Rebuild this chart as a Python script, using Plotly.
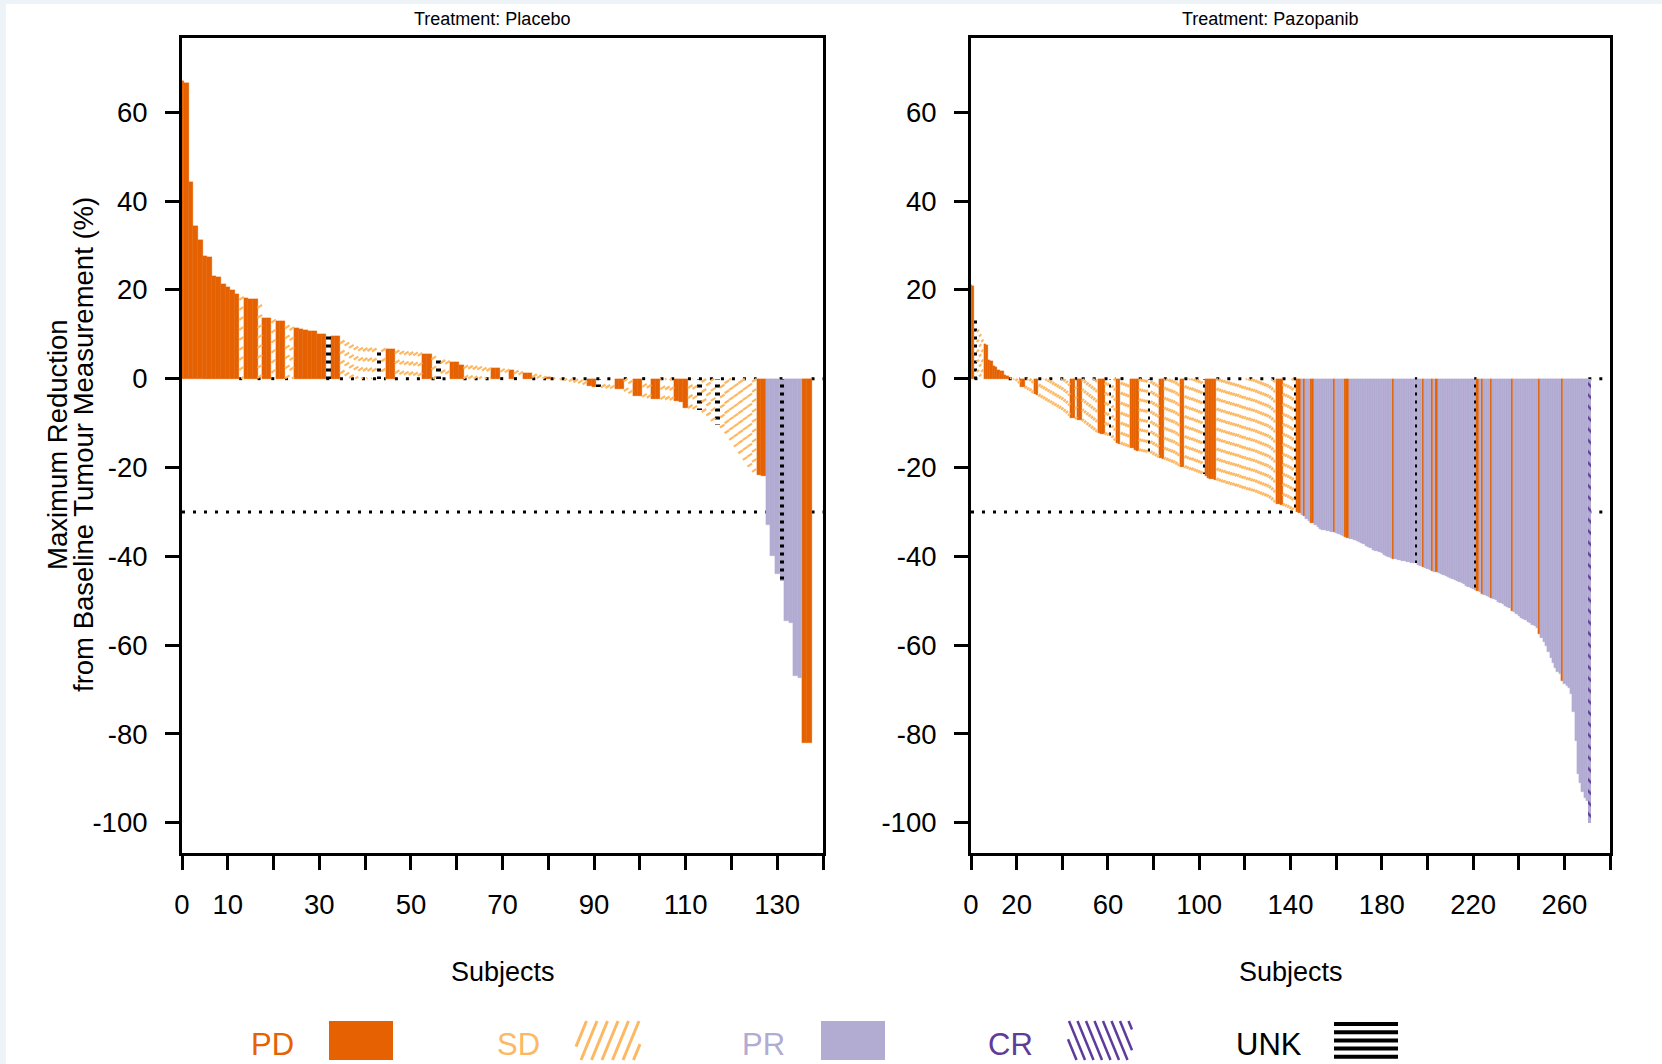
import plotly.graph_objects as go

W, H = 1662, 1064

# Maximum reduction from baseline tumour measurement (%), one value per subject,
# ordered from the largest increase to the largest reduction.
placebo_change = [
    67.0, 66.5, 44.3, 34.3, 31.2, 27.7, 27.5, 23.1, 22.9, 21.3,
    20.7, 19.9, 19.0, 18.4, 18.1, 18.0, 17.9, 16.6, 13.7, 13.6,
    13.3, 13.0, 12.9, 12.0, 11.6, 11.3, 11.2, 10.9, 10.8, 10.7,
    10.1, 10.0, 9.8, 9.6, 9.5, 8.6, 8.1, 7.6, 7.2, 7.0,
    6.9, 6.9, 6.8, 6.8, 6.8, 6.7, 6.7, 6.4, 6.2, 6.1,
    6.0, 5.9, 5.8, 5.6, 5.5, 5.0, 4.6, 4.2, 4.0, 3.8,
    3.8, 3.1, 3.0, 2.9, 2.8, 2.7, 2.5, 2.4, 2.3, 2.3,
    2.2, 2.1, 2.0, 1.8, 1.6, 1.3, 1.3, 1.0, 0.8, 0.5,
    0.4, 0.2, 0.0, -0.2, -0.4, -0.6, -0.8, -1.0, -1.3, -1.7,
    -1.8, -1.9, -2.0, -2.1, -2.2, -2.4, -2.4, -2.8, -3.3, -3.8,
    -3.9, -4.1, -4.3, -4.5, -4.5, -4.6, -4.7, -4.8, -5.0, -5.2,
    -6.5, -6.6, -6.8, -7.0, -7.5, -8.3, -9.5, -10.5, -11.0, -12.3,
    -13.8, -15.3, -16.8, -18.3, -19.8, -21.0, -21.8, -22.0, -33.0, -40.0,
    -44.0, -45.5, -54.5, -55.0, -67.0, -67.5, -82.0, -82.0,
]

# Best response per subject, stored as consecutive runs (response, number of subjects).
placebo_response_runs = [
    ("PD", 13), ("SD", 1), ("PD", 3), ("SD", 1), ("PD", 2), ("SD", 1), ("PD", 2),
    ("SD", 2), ("PD", 7), ("UNK", 1), ("PD", 2), ("SD", 8), ("UNK", 1), ("SD", 1),
    ("PD", 2), ("SD", 6), ("PD", 2), ("SD", 1), ("UNK", 1), ("SD", 2), ("PD", 3),
    ("SD", 6), ("PD", 2), ("SD", 2), ("PD", 1), ("SD", 2), ("PD", 2), ("SD", 3),
    ("PD", 1), ("SD", 8), ("PD", 2), ("UNK", 1), ("SD", 3), ("PD", 2), ("SD", 2),
    ("PD", 2), ("SD", 2), ("PD", 2), ("SD", 3), ("PD", 3), ("SD", 2), ("UNK", 1),
    ("SD", 3), ("UNK", 1), ("SD", 8), ("PD", 2), ("PR", 3), ("UNK", 1), ("PR", 4),
    ("PD", 2),
]

pazopanib_change = [
    21.0, 20.8, 13.5, 11.0, 10.0, 8.8, 7.7, 7.6, 4.1, 4.0,
    2.8, 2.7, 1.9, 1.8, 1.7, 0.8, 0.7, 0.2, 0.0, -0.2,
    -0.5, -1.0, -1.8, -1.9, -2.2, -2.5, -2.8, -3.2, -3.5, -3.6,
    -4.0, -4.3, -4.6, -4.9, -5.2, -5.5, -5.8, -6.1, -6.4, -6.7,
    -7.0, -7.4, -7.8, -8.3, -8.8, -8.9, -9.1, -9.3, -9.4, -9.6,
    -10.0, -10.4, -10.8, -11.2, -11.6, -12.0, -12.3, -12.4, -12.5, -12.6,
    -12.8, -12.9, -13.3, -13.9, -14.5, -14.6, -14.8, -15.0, -15.2, -15.4,
    -15.5, -15.6, -16.1, -16.2, -16.3, -16.4, -16.5, -16.6, -16.6, -16.8,
    -17.1, -17.4, -17.7, -17.9, -18.0, -18.2, -18.4, -18.6, -18.8, -19.0,
    -19.3, -19.6, -19.8, -19.9, -20.1, -20.3, -20.5, -20.6, -20.8, -21.0,
    -21.2, -21.4, -21.5, -22.0, -22.4, -22.6, -22.7, -22.8, -22.9, -23.1,
    -23.3, -23.4, -23.6, -23.7, -23.9, -24.0, -24.2, -24.3, -24.5, -24.7,
    -24.8, -25.0, -25.1, -25.3, -25.4, -25.6, -25.8, -26.0, -26.2, -26.4,
    -26.6, -26.9, -27.3, -27.8, -28.2, -28.3, -28.4, -28.6, -28.8, -29.0,
    -29.3, -29.6, -30.1, -30.1, -30.2, -30.6, -31.0, -31.5, -32.0, -32.4,
    -32.5, -33.0, -33.5, -33.8, -34.0, -34.1, -34.2, -34.3, -34.5, -34.6,
    -34.8, -35.0, -35.3, -35.5, -35.7, -35.8, -36.0, -36.2, -36.3, -36.5,
    -36.7, -37.0, -37.3, -37.6, -37.9, -38.2, -38.5, -38.7, -38.9, -39.1,
    -39.3, -39.6, -39.9, -40.2, -40.4, -40.6, -40.7, -40.8, -40.9, -41.0,
    -41.1, -41.2, -41.3, -41.4, -41.5, -41.6, -41.9, -42.2, -42.5, -42.7,
    -42.9, -43.1, -43.3, -43.5, -43.6, -43.8, -44.0, -44.2, -44.4, -44.6,
    -44.8, -45.0, -45.3, -45.5, -45.8, -46.0, -46.3, -46.6, -46.9, -47.1,
    -47.3, -47.5, -47.7, -48.1, -48.5, -48.7, -48.9, -49.1, -49.3, -49.6,
    -49.9, -50.2, -50.5, -50.8, -51.1, -51.4, -51.7, -52.3, -52.6, -53.0,
    -53.4, -53.8, -54.1, -54.4, -54.7, -55.0, -55.4, -55.8, -56.2, -57.5,
    -58.3, -59.2, -60.3, -61.5, -62.8, -64.0, -65.2, -66.0, -66.5, -68.0,
    -68.7, -69.2, -69.6, -71.0, -75.0, -81.5, -89.0, -91.0, -93.0, -94.4,
    -95.0, -100.0,
]

pazopanib_response_runs = [
    ("PD", 2), ("UNK", 1), ("SD", 3), ("PD", 11), ("SD", 5), ("PD", 2), ("SD", 4),
    ("PD", 2), ("SD", 14), ("PD", 2), ("SD", 1), ("PD", 2), ("SD", 7), ("PD", 3),
    ("SD", 2), ("UNK", 1), ("SD", 2), ("PD", 2), ("SD", 4), ("PD", 4), ("SD", 4),
    ("UNK", 1), ("SD", 4), ("PD", 2), ("SD", 7), ("PD", 2), ("SD", 8), ("UNK", 1),
    ("PD", 5), ("SD", 26), ("PD", 3), ("SD", 5), ("UNK", 1), ("PD", 2), ("PR", 1),
    ("PD", 1), ("PR", 2), ("PD", 2), ("PR", 8), ("PD", 1), ("PR", 4), ("PD", 2),
    ("PR", 19), ("PD", 1), ("PR", 9), ("UNK", 1), ("PR", 2), ("PD", 1), ("PR", 3),
    ("PD", 1), ("PR", 1), ("PD", 1), ("PR", 16), ("UNK", 1), ("PD", 1), ("PR", 1),
    ("PD", 1), ("PR", 3), ("PD", 1), ("PR", 8), ("PD", 1), ("PR", 11), ("PD", 1),
    ("PR", 9), ("PD", 1), ("PR", 11), ("CR", 1),
]

response_order = ["PD", "SD", "PR", "CR", "UNK"]
response_colors = {
    "PD": "#E66101",
    "SD": "#FDB863",
    "PR": "#B2ABD2",
    "CR": "#5E3C99",
    "UNK": "#000000",
}
solid_responses = ("PD", "PR")

y_ticks = [-100, -80, -60, -40, -20, 0, 20, 40, 60]
reference_levels = [0, -30]

FONT = "Liberation Sans, Arial, Helvetica, sans-serif"

# panel geometry in page pixels
PLOT_TOP, PLOT_BOTTOM = 38, 853
Y_RANGE = [-106.8, 76.7]
panels = [
    dict(title="Treatment: Placebo", change=placebo_change, runs=placebo_response_runs,
         x0=182, x1=823, xmax=140, tick_step=10,
         labelled=[0, 10, 30, 50, 70, 90, 110, 130], title_x=492),
    dict(title="Treatment: Pazopanib", change=pazopanib_change, runs=pazopanib_response_runs,
         x0=971, x1=1610, xmax=280, tick_step=20,
         labelled=[0, 20, 60, 100, 140, 180, 220, 260], title_x=1270),
]


def expand(runs):
    out = []
    for resp, n in runs:
        out.extend([resp] * n)
    return out


def px(x):
    return x / W


def py(y):
    return 1 - y / H


def sd_hatch(xs, vals, px_per_x, px_per_y, gap_px=10.0, max_rise_px=3.0):
    """Rising stripes inside each SD bar, anchored at the bar end."""
    rise = min(px_per_x, max_rise_px) / px_per_y
    gap = gap_px / px_per_y
    hx, hy = [], []
    for x, v in zip(xs, vals):
        lo, hi = min(v, 0.0), max(v, 0.0)
        if hi - lo <= 1e-9:
            continue
        k = 0
        while True:
            if v < 0:
                yl = v + k * gap
                if yl >= 0:
                    break
            else:
                yr = v - k * gap
                if yr <= 0:
                    break
                yl = yr - rise
            yr = yl + rise
            xl, xr = x - 0.5, x + 0.5
            a, b = yl, yr
            if a < lo:
                xl = (x - 0.5) + (lo - yl) / rise
                a = lo
            if b > hi:
                xr = (x - 0.5) + (hi - yl) / rise
                b = hi
            if xr > xl:
                hx += [xl, xr, None]
                hy += [a, b, None]
            k += 1
    return hx, hy


def open_spans(change, resp, level, xmax):
    """x-intervals where a reference level is not hidden behind a solid bar."""
    spans = []
    start = 0.0
    for i, (v, r) in enumerate(zip(change, resp)):
        covered = r in solid_responses and min(v, 0.0) <= level <= max(v, 0.0)
        if covered:
            if i - 0.5 > start:
                spans.append((start, i - 0.5))
            start = i + 0.5
    if xmax > start:
        spans.append((start, xmax))
    return spans


fig = go.Figure()
shapes = []
annotations = []

y_domain = [1 - PLOT_BOTTOM / H, 1 - PLOT_TOP / H]

for k, p in enumerate(panels):
    xa = "x" if k == 0 else "x2"
    ya = "y" if k == 0 else "y2"
    change = p["change"]
    resp = expand(p["runs"])
    idx = list(range(len(change)))
    px_per_x = (p["x1"] - p["x0"]) / p["xmax"]
    px_per_y = (PLOT_BOTTOM - PLOT_TOP) / (Y_RANGE[1] - Y_RANGE[0])

    # dotted reference lines at 0 % and -30 %, showing through the open bars only
    for lvl in reference_levels:
        for a, b in open_spans(change, resp, lvl, p["xmax"]):
            shapes.append(dict(type="line", xref=xa, yref=ya, x0=max(a, 0), x1=b,
                               y0=lvl, y1=lvl, layer="below",
                               line=dict(color="black", width=3, dash="3px,8px")))

    # solid bars
    for cat in solid_responses:
        sel = [i for i in idx if resp[i] == cat]
        fig.add_trace(go.Bar(
            x=sel, y=[change[i] for i in sel], width=1, xaxis=xa, yaxis=ya,
            marker=dict(color=response_colors[cat],
                        line=dict(color=response_colors[cat], width=0.3)),
            showlegend=False, hoverinfo="skip"))

    # line-filled bars
    for cat, shape, size, solid in [("UNK", "-", 8, 0.38), ("CR", "\\", 8, 0.3)]:
        sel = [i for i in idx if resp[i] == cat]
        if not sel:
            continue
        bg = [response_colors["PR"] if i > 0 and resp[i - 1] == "PR" else "rgba(0,0,0,0)"
              for i in sel]
        fig.add_trace(go.Bar(
            x=sel, y=[change[i] for i in sel], width=1, xaxis=xa, yaxis=ya,
            marker=dict(color="rgba(0,0,0,0)", line=dict(width=0),
                        pattern=dict(shape=shape, fgcolor=response_colors[cat], bgcolor=bg,
                                     size=size, solidity=solid, fillmode="replace")),
            showlegend=False, hoverinfo="skip"))

    # stable disease: hatched stripes
    sel = [i for i in idx if resp[i] == "SD"]
    hx, hy = sd_hatch(sel, [change[i] for i in sel], px_per_x, px_per_y)
    fig.add_trace(go.Scatter(
        x=hx, y=hy, mode="lines", xaxis=xa, yaxis=ya,
        line=dict(color=response_colors["SD"], width=2.2),
        showlegend=False, hoverinfo="skip"))

    annotations.append(dict(text=p["title"], xref="paper", yref="paper",
                            x=px(p["title_x"]), y=py(19), showarrow=False,
                            xanchor="center", yanchor="middle",
                            font=dict(family=FONT, size=18, color="black")))
    annotations.append(dict(text="Subjects", xref="paper", yref="paper",
                            x=px((p["x0"] + p["x1"]) / 2), y=py(972), showarrow=False,
                            xanchor="center", yanchor="middle",
                            font=dict(family=FONT, size=27, color="black")))

axis_common = dict(
    showline=True, linewidth=3, linecolor="black", mirror=True,
    ticks="outside", ticklen=14, tickwidth=3, tickcolor="black",
    showgrid=False, zeroline=False, automargin=False,
    tickfont=dict(family=FONT, size=27.5, color="black"),
)

layout_axes = {}
for k, p in enumerate(panels):
    sx = "" if k == 0 else "2"
    tv = list(range(0, p["xmax"] + 1, p["tick_step"]))
    tt = [str(v) if v in p["labelled"] else "" for v in tv]
    layout_axes["xaxis" + sx] = dict(
        domain=[px(p["x0"]), px(p["x1"])], range=[0, p["xmax"]],
        tickvals=tv, ticktext=tt, anchor="y" + sx, ticklabelstandoff=11, **axis_common)
    layout_axes["yaxis" + sx] = dict(
        domain=y_domain, range=Y_RANGE, tickvals=y_ticks,
        ticktext=[str(v) for v in y_ticks], anchor="x" + sx,
        ticklabelstandoff=12, **axis_common)

# y axis title, two lines
for text, xpix in [("Maximum Reduction", 58), ("from Baseline Tumour Measurement (%)", 84)]:
    annotations.append(dict(text=text, xref="paper", yref="paper", x=px(xpix), y=py(445),
                            textangle=-90, showarrow=False, xanchor="center",
                            yanchor="middle", font=dict(family=FONT, size=27.5, color="black")))

# key below the panels
KEY_W, KEY_TOP, KEY_BOTTOM = 64, 1021, 1060
key_layout = {"PD": (272, 329), "SD": (518, 576), "PR": (763, 821),
              "CR": (1010, 1068), "UNK": (1269, 1334)}


def clipped_line(xa_, ya_, xb_, yb_, xmin, xmax, color, width):
    if xa_ > xb_:
        xa_, ya_, xb_, yb_ = xb_, yb_, xa_, ya_
    if xb_ < xmin or xa_ > xmax:
        return None
    slope = (yb_ - ya_) / (xb_ - xa_)
    if xa_ < xmin:
        ya_ += slope * (xmin - xa_)
        xa_ = xmin
    if xb_ > xmax:
        yb_ -= slope * (xb_ - xmax)
        xb_ = xmax
    return dict(type="line", xref="paper", yref="paper", x0=px(xa_), y0=py(ya_),
                x1=px(xb_), y1=py(yb_), line=dict(color=color, width=width))


for cat in response_order:
    tx, bx = key_layout[cat]
    col = response_colors[cat]
    annotations.append(dict(text=cat, xref="paper", yref="paper", x=px(tx), y=py(1044),
                            showarrow=False, xanchor="center", yanchor="middle",
                            font=dict(family=FONT, size=31, color=col)))
    bx1 = bx + KEY_W
    if cat in solid_responses:
        shapes.append(dict(type="rect", xref="paper", yref="paper", x0=px(bx), x1=px(bx1),
                           y0=py(KEY_BOTTOM), y1=py(KEY_TOP), fillcolor=col,
                           line=dict(width=0)))
    elif cat == "SD":
        slant = 16
        t = bx - slant
        while t < bx1:
            s = clipped_line(t, KEY_BOTTOM, t + slant, KEY_TOP, bx, bx1, col, 3)
            if s:
                shapes.append(s)
            t += 10.5
    elif cat == "CR":
        slant = 16
        t = bx - slant
        while t < bx1:
            s = clipped_line(t, KEY_TOP, t + slant, KEY_BOTTOM, bx, bx1, col, 2.5)
            if s:
                shapes.append(s)
            t += 8.5
    else:
        for j in range(5):
            yy = KEY_TOP + 3 + j * 8.2
            shapes.append(dict(type="line", xref="paper", yref="paper", x0=px(bx), x1=px(bx1),
                               y0=py(yy), y1=py(yy), line=dict(color=col, width=4)))

# thin page frame tint along the top and left edges
shapes.append(dict(type="rect", xref="paper", yref="paper", x0=0, x1=1, y0=py(4), y1=1,
                   fillcolor="#EEF3F8", line=dict(width=0), layer="below"))
shapes.append(dict(type="rect", xref="paper", yref="paper", x0=0, x1=px(6), y0=0, y1=1,
                   fillcolor="#EEF3F8", line=dict(width=0), layer="below"))

fig.update_layout(
    width=W, height=H,
    margin=dict(l=0, r=0, t=0, b=0, pad=0),
    paper_bgcolor="white", plot_bgcolor="white",
    barmode="overlay", bargap=0,
    showlegend=False,
    shapes=shapes, annotations=annotations,
    font=dict(family=FONT, color="black"),
    **layout_axes,
)

fig.write_html("out.html", config={"displayModeBar": False})
